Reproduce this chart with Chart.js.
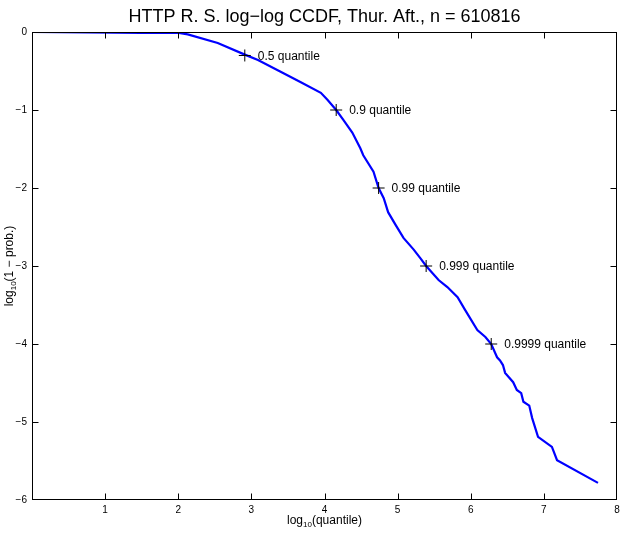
<!DOCTYPE html>
<html><head><meta charset="utf-8">
<script src="https://cdn.jsdelivr.net/npm/chart.js@4/dist/chart.umd.min.js"></script>
<style>html,body{margin:0;padding:0;background:#fff}#wrap{width:624px;height:534px}</style>
</head><body><div id="wrap"><canvas id="c" width="624" height="534"></canvas></div>
<script>
const curveX = [0, 1.49, 1.99, 2.13, 2.54, 2.91, 3.09, 3.40, 3.67, 3.95, 4.04, 4.16, 4.26, 4.38, 4.49, 4.53, 4.67, 4.74, 4.81, 4.87, 4.97, 5.08, 5.22, 5.31, 5.39, 5.56, 5.68, 5.82, 5.92, 6.09, 6.20, 6.28, 6.36, 6.40, 6.44, 6.47, 6.58, 6.63, 6.69, 6.72, 6.80, 6.84, 6.92, 7.11, 7.18, 7.74];
const curveY = [0, -0.01, -0.01, -0.03, -0.14, -0.29, -0.36, -0.51, -0.64, -0.78, -0.87, -1.00, -1.13, -1.29, -1.49, -1.58, -1.79, -2.00, -2.13, -2.31, -2.47, -2.64, -2.79, -2.90, -3.00, -3.18, -3.27, -3.40, -3.56, -3.82, -3.91, -4.00, -4.17, -4.21, -4.27, -4.37, -4.49, -4.59, -4.63, -4.74, -4.79, -4.95, -5.19, -5.32, -5.49, -5.78];
const quantX = [2.91, 4.16, 4.74, 5.39, 6.28];
const quantY = [-0.301, -1, -2, -3, -4];
const quantLabels = ['0.5 quantile', '0.9 quantile', '0.99 quantile', '0.999 quantile', '0.9999 quantile'];
const xTicks = [0, 1, 2, 3, 4, 5, 6, 7, 8];
const yTicks = [0, -1, -2, -3, -4, -5, -6];
const titleText = 'HTTP R. S. log\u2212log CCDF, Thur. Aft., n = 610816';

const FONT = '"Liberation Sans", Arial, Helvetica, sans-serif';

const deco = {
  id: 'deco',
  afterDraw(chart) {
    const ctx = chart.ctx, a = chart.chartArea, xs = chart.scales.x, ys = chart.scales.y;
    ctx.save();
    ctx.strokeStyle = '#000'; ctx.lineWidth = 1;
    const L = Math.round(a.left) + 0.5, R = Math.round(a.right) - 0.5, T = Math.round(a.top) + 0.5, B = Math.round(a.bottom) - 0.5;
    ctx.strokeRect(L, T, R - L, B - T);
    ctx.beginPath();
    xTicks.forEach(v => { if (v === 0 || v === 8) return; const p = Math.round(xs.getPixelForValue(v)) + 0.5; ctx.moveTo(p, B); ctx.lineTo(p, B - 6); ctx.moveTo(p, T); ctx.lineTo(p, T + 6); });
    yTicks.forEach(v => { if (v === 0 || v === -6) return; const p = Math.round(ys.getPixelForValue(v)) + 0.5; ctx.moveTo(L, p); ctx.lineTo(L + 6, p); ctx.moveTo(R, p); ctx.lineTo(R - 6, p); });
    ctx.stroke();
    // quantile labels
    ctx.fillStyle = '#000'; ctx.font = '12px ' + FONT; ctx.textBaseline = 'middle'; ctx.textAlign = 'left';
    quantX.forEach((v, i) => { ctx.fillText(quantLabels[i], xs.getPixelForValue(v) + 13, ys.getPixelForValue(quantY[i]) + 1); });
    // title
    ctx.font = '18px ' + FONT; ctx.textAlign = 'center'; ctx.textBaseline = 'middle';
    ctx.fillText(titleText, (a.left + a.right) / 2, 17);
    function drawSub(cx, cy, rest) {
      const f1 = '12px ' + FONT, f2 = '8px ' + FONT;
      ctx.font = f1; const w1 = ctx.measureText('log').width, w3 = ctx.measureText(rest).width;
      ctx.font = f2; const w2 = ctx.measureText('10').width;
      let x0 = cx - (w1 + w2 + w3) / 2;
      ctx.textAlign = 'left'; ctx.textBaseline = 'middle';
      ctx.font = f1; ctx.fillText('log', x0, cy);
      ctx.font = f2; ctx.fillText('10', x0 + w1, cy + 4);
      ctx.font = f1; ctx.fillText(rest, x0 + w1 + w2, cy);
    }
    drawSub((a.left + a.right) / 2, 521, '(quantile)');
    ctx.save();
    ctx.translate(10, (a.top + a.bottom) / 2);
    ctx.rotate(-Math.PI / 2);
    drawSub(0, 0, '(1 \u2212 prob.)');
    ctx.restore();
    ctx.restore();
  }
};

new Chart(document.getElementById('c'), {
  type: 'scatter',
  data: {
    datasets: [
      { data: curveX.map((x, i) => ({ x, y: curveY[i] })), showLine: true, borderColor: '#0000ff', borderWidth: 2.2, pointRadius: 0, tension: 0, order: 2 },
      { data: quantX.map((x, i) => ({ x, y: quantY[i] })), showLine: false, pointStyle: 'cross', pointRadius: 6, borderColor: '#000', borderWidth: 1, order: 1 }
    ]
  },
  options: {
    responsive: false, animation: false, devicePixelRatio: 1,
    layout: { padding: { top: 32, right: 7, left: 0, bottom: 0 } },
    plugins: { legend: { display: false }, tooltip: { enabled: false }, title: { display: false } },
    scales: {
      x: {
        type: 'linear', min: 0, max: 8,
        afterBuildTicks: s => { s.ticks = xTicks.map(v => ({ value: v })); },
        afterFit: s => { s.height = 34; },
        grid: { display: false, drawTicks: false }, border: { display: false },
        ticks: { padding: 4, color: '#000', font: { family: FONT, size: 10 }, maxRotation: 0, autoSkip: false, callback: v => v === 0 ? '' : String(v) }
      },
      y: {
        type: 'linear', min: -6, max: 0,
        afterBuildTicks: s => { s.ticks = yTicks.map(v => ({ value: v })); },
        afterFit: s => { s.width = 32; },
        grid: { display: false, drawTicks: false }, border: { display: false },
        ticks: { padding: 5, color: '#000', font: { family: FONT, size: 10 }, autoSkip: false, callback: v => v < 0 ? '\u2212' + Math.abs(v) : String(v) }
      }
    }
  },
  plugins: [deco]
});
</script></body></html>
